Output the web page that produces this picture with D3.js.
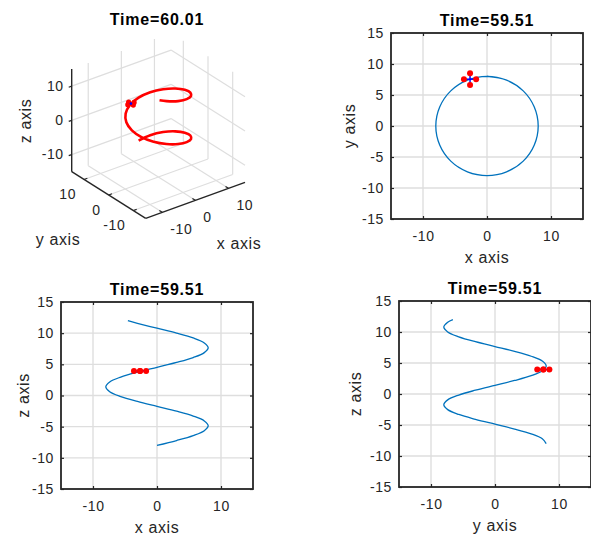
<!DOCTYPE html>
<html>
<head>
<meta charset="utf-8">
<script src="https://cdn.jsdelivr.net/npm/d3@7"></script>
<style>
body { margin: 0; background: #fff; }
svg text { font-family: "Liberation Sans", Arial, sans-serif; }
</style>
</head>
<body>
<div id="chart"></div>
<script>
// helix path (x, y, z)
const pathX = [0, 3.06, 5.66, 7.39, 8, 7.39, 5.66, 3.06, 0, -3.06, -5.66, -7.39, -8, -7.39, -5.66, -3.06, 0, 3.06, 5.66, 7.39, 8, 7.39, 5.66, 3.06, 0, -3.06, -4.55];
const pathY = [8, 7.39, 5.66, 3.06, 0, -3.06, -5.66, -7.39, -8, -7.39, -5.66, -3.06, 0, 3.06, 5.66, 7.39, 8, 7.39, 5.66, 3.06, 0, -3.06, -5.66, -7.39, -8, -7.39, -6.58];
const pathZ = [-8, -7.22, -6.43, -5.65, -4.87, -4.08, -3.3, -2.52, -1.74, -0.95, -0.17, 0.61, 1.4, 2.18, 2.96, 3.75, 4.53, 5.31, 6.09, 6.88, 7.66, 8.44, 9.23, 10.01, 10.79, 11.58, 12];

// quadrotor: 4 rotors round the centre
const rotorX = [-1.7, -2.65, -3.6, -2.65];
const rotorY = [7.55, 8.5, 7.55, 6.6];
const rotorZ = [3.95, 3.95, 3.95, 3.95];
const quadCenter = [-2.65, 7.55, 3.95];

const hTicks = [-10, 0, 10];
const vTicks = [-15, -10, -5, 0, 5, 10, 15];
const ticks3d = [-10, 0, 10];
const titles = ["Time=60.01", "Time=59.51", "Time=59.51", "Time=59.51"];

const ink = "#262626", gridCol = "#dedede", blue = "#0072bd", red = "#ff0000";

const svg = d3.select("#chart").append("svg")
    .attr("width", 591)
    .attr("height", 536);

const data = {x: pathX, y: pathY, z: pathZ};
const rotors = {x: rotorX, y: rotorY, z: rotorZ};

function styleText(sel, size) {
    sel.attr("font-size", size + "px")
        .attr("fill", ink)
        .attr("letter-spacing", "0.6px");
}

// ---------- 2D panels ----------
const panels = [
    {left: 391, top: 33, w: 192, h: 186, hk: "x", vk: "y", title: titles[1], ylabX: 355, plus: true},
    {left: 61, top: 302, w: 192, h: 187, hk: "x", vk: "z", title: titles[2], ylabX: 29, plus: false},
    {left: 399, top: 301, w: 192, h: 186, hk: "y", vk: "z", title: titles[3], ylabX: 361, plus: false}
];

panels.forEach(function (p) {
    const hs = data[p.hk], vs = data[p.vk];
    const sx = d3.scaleLinear().domain([-15, 15]).range([p.left, p.left + p.w]);
    const sy = d3.scaleLinear().domain([-15, 15]).range([p.top + p.h, p.top]);
    const g = svg.append("g");

    // grid
    g.selectAll(".gx").data(hTicks).join("line")
        .attr("x1", d => sx(d)).attr("x2", d => sx(d))
        .attr("y1", p.top).attr("y2", p.top + p.h)
        .attr("stroke", gridCol).attr("stroke-width", 1.4);
    g.selectAll(".gy").data(vTicks).join("line")
        .attr("y1", d => sy(d)).attr("y2", d => sy(d))
        .attr("x1", p.left).attr("x2", p.left + p.w)
        .attr("stroke", gridCol).attr("stroke-width", 1.4);

    // trajectory
    const line = d3.line()
        .x(i => sx(hs[i]))
        .y(i => sy(vs[i]))
        .curve(d3.curveCatmullRom);
    g.append("path")
        .attr("d", line(d3.range(hs.length)))
        .attr("fill", "none")
        .attr("stroke", blue)
        .attr("stroke-width", 1.3);

    // quad arms + rotors
    const rh = rotors[p.hk], rv = rotors[p.vk];
    [[0, 2], [1, 3]].forEach(function (a) {
        g.append("line")
            .attr("x1", sx(rh[a[0]])).attr("y1", sy(rv[a[0]]))
            .attr("x2", sx(rh[a[1]])).attr("y2", sy(rv[a[1]]))
            .attr("stroke", "#0000ff").attr("stroke-width", 1.5);
    });
    g.selectAll(".rotor").data(d3.range(rh.length)).join("circle")
        .attr("cx", i => sx(rh[i]))
        .attr("cy", i => sy(rv[i]))
        .attr("r", 3)
        .attr("fill", red);

    // axes: ticks pointing in, labels outside
    const bottom = g.append("g").attr("transform", `translate(0,${p.top + p.h})`)
        .call(d3.axisBottom(sx).tickValues(hTicks).tickSizeInner(-3).tickSizeOuter(0)
            .tickPadding(12).tickFormat(d => String(d)));
    const left = g.append("g").attr("transform", `translate(${p.left},0)`)
        .call(d3.axisLeft(sy).tickValues(vTicks).tickSizeInner(-3).tickSizeOuter(0)
            .tickPadding(7).tickFormat(d => String(d)));
    const top = g.append("g").attr("transform", `translate(0,${p.top})`)
        .call(d3.axisTop(sx).tickValues(hTicks).tickSizeInner(-3).tickSizeOuter(0).tickFormat(""));
    const right = g.append("g").attr("transform", `translate(${p.left + p.w},0)`)
        .call(d3.axisRight(sy).tickValues(vTicks).tickSizeInner(-3).tickSizeOuter(0).tickFormat(""));
    [bottom, left, top, right].forEach(function (ax) {
        ax.select(".domain").remove();
        ax.selectAll("line").attr("stroke", ink).attr("stroke-width", 1.2);
        ax.selectAll("text").call(styleText, 14).attr("font-family", null);
    });

    g.append("rect")
        .attr("x", p.left).attr("y", p.top)
        .attr("width", p.w).attr("height", p.h)
        .attr("fill", "none")
        .attr("stroke", ink)
        .attr("stroke-width", 1.8);

    // labels
    g.append("text")
        .attr("x", p.left + p.w / 2).attr("y", p.top + p.h + 44)
        .attr("text-anchor", "middle")
        .text(p.hk + " axis")
        .call(styleText, 16);
    g.append("text")
        .attr("transform", `translate(${p.ylabX},${p.top + p.h / 2}) rotate(-90)`)
        .attr("text-anchor", "middle")
        .text(p.vk + " axis")
        .call(styleText, 16);
    g.append("text")
        .attr("x", p.left + p.w / 2).attr("y", p.top - 7)
        .attr("text-anchor", "middle")
        .attr("font-weight", "bold")
        .attr("font-size", "16px")
        .attr("letter-spacing", "0.8px")
        .attr("fill", "#000")
        .text(p.title);
});

// ---------- 3D panel (az -37.5, el 30) ----------
const f3 = d3.scaleLinear().domain([-15, 15]).range([0, 1]);
const origin3 = [145.7, 218.3],
    xVec = [99.3, -36],
    yVec = [-74, -46.6],
    zVec = [0, -102.7];

function proj(x, y, z) {
    return [
        origin3[0] + f3(x) * xVec[0] + f3(y) * yVec[0] + f3(z) * zVec[0],
        origin3[1] + f3(x) * xVec[1] + f3(y) * yVec[1] + f3(z) * zVec[1]
    ];
}

const g3 = svg.append("g");
const segs = [];
ticks3d.forEach(function (t) {
    segs.push([[t, 15, -15], [t, 15, 15]]);
    segs.push([[-15, 15, t], [15, 15, t]]);
    segs.push([[15, t, -15], [15, t, 15]]);
    segs.push([[15, -15, t], [15, 15, t]]);
    segs.push([[t, -15, -15], [t, 15, -15]]);
    segs.push([[-15, t, -15], [15, t, -15]]);
});
g3.selectAll(".grid3").data(segs).join("line")
    .attr("x1", d => proj(...d[0])[0]).attr("y1", d => proj(...d[0])[1])
    .attr("x2", d => proj(...d[1])[0]).attr("y2", d => proj(...d[1])[1])
    .attr("stroke", gridCol).attr("stroke-width", 1.2);

// axis lines
const axes3 = [
    [[-15, 15, -15], [-15, 15, 15]],
    [[-15, -15, -15], [-15, 15, -15]],
    [[-15, -15, -15], [15, -15, -15]]
];
g3.selectAll(".ax3").data(axes3).join("line")
    .attr("x1", d => proj(...d[0])[0]).attr("y1", d => proj(...d[0])[1])
    .attr("x2", d => proj(...d[1])[0]).attr("y2", d => proj(...d[1])[1])
    .attr("stroke", ink).attr("stroke-width", 1.4);

// tick marks
const tickSegs = [];
ticks3d.forEach(function (t) {
    tickSegs.push([[-15, t, -15], [-14, t, -15]]);
    tickSegs.push([[t, -15, -15], [t, -13.8, -15]]);
    tickSegs.push([[-15, 15, t], [-15.9, 15, t]]);
});
g3.selectAll(".tk3").data(tickSegs).join("line")
    .attr("x1", d => proj(...d[0])[0]).attr("y1", d => proj(...d[0])[1])
    .attr("x2", d => proj(...d[1])[0]).attr("y2", d => proj(...d[1])[1])
    .attr("stroke", ink).attr("stroke-width", 1.2);

// tick labels
g3.selectAll(".zl").data(ticks3d).join("text")
    .attr("x", d => proj(-15, 15, d)[0] - 8)
    .attr("y", d => proj(-15, 15, d)[1])
    .attr("dy", "0.35em")
    .attr("text-anchor", "end")
    .text(d => String(d))
    .call(styleText, 14);
g3.selectAll(".yl").data(ticks3d).join("text")
    .attr("x", d => proj(-15, d, -15)[0] - 8)
    .attr("y", d => proj(-15, d, -15)[1] + 15)
    .attr("dy", "0.35em")
    .attr("text-anchor", "end")
    .text(d => String(d))
    .call(styleText, 14);
g3.selectAll(".xl").data(ticks3d).join("text")
    .attr("x", d => proj(d, -15, -15)[0] + 8)
    .attr("y", d => proj(d, -15, -15)[1] + 16.5)
    .attr("dy", "0.35em")
    .attr("text-anchor", "start")
    .text(d => String(d))
    .call(styleText, 14);

// trajectory in red
const line3 = d3.line()
    .x(i => proj(pathX[i], pathY[i], pathZ[i])[0])
    .y(i => proj(pathX[i], pathY[i], pathZ[i])[1])
    .curve(d3.curveCatmullRom);
g3.append("path")
    .attr("d", line3(d3.range(pathX.length)))
    .attr("fill", "none")
    .attr("stroke", red)
    .attr("stroke-width", 2.6)
    .attr("stroke-linejoin", "round");

g3.selectAll(".rot3").data(d3.range(rotorX.length)).join("circle")
    .attr("cx", i => proj(rotorX[i], rotorY[i], rotorZ[i])[0])
    .attr("cy", i => proj(rotorX[i], rotorY[i], rotorZ[i])[1])
    .attr("r", 2.6)
    .attr("fill", red);
g3.append("circle")
    .attr("cx", proj(...quadCenter)[0])
    .attr("cy", proj(...quadCenter)[1])
    .attr("r", 1.3)
    .attr("fill", "#0000ff");

// 3D labels
g3.append("text")
    .attr("transform", "translate(31,121) rotate(-90)")
    .attr("text-anchor", "middle")
    .text("z axis")
    .call(styleText, 16);
g3.append("text")
    .attr("x", 58).attr("y", 245)
    .attr("text-anchor", "middle")
    .text("y axis")
    .call(styleText, 16);
g3.append("text")
    .attr("x", 239).attr("y", 249)
    .attr("text-anchor", "middle")
    .text("x axis")
    .call(styleText, 16);
g3.append("text")
    .attr("x", 157).attr("y", 25)
    .attr("text-anchor", "middle")
    .attr("font-weight", "bold")
    .attr("font-size", "16px")
    .attr("letter-spacing", "0.8px")
    .attr("fill", "#000")
    .text(titles[0]);
</script>
</body>
</html>
